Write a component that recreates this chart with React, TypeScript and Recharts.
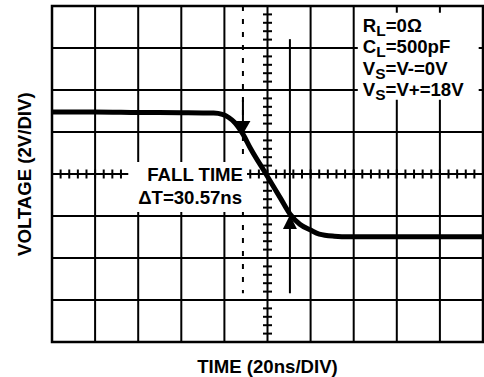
import {
  ComposedChart,
  Line,
  Scatter,
  XAxis,
  YAxis,
  CartesianGrid,
  ReferenceLine,
  ReferenceArea,
} from "recharts";

// ─── Data ─────────────────────────────────────────────────────────────────────

// output waveform, time in ns and output level in V
const timeNs = [0, 20, 40, 60, 75, 79, 82, 85, 88.6, 92, 99, 106, 110.4, 115, 120, 124, 131, 138, 160, 180, 200];
const voltage = [10.95, 10.95, 10.93, 10.92, 10.9, 10.84, 10.69, 10.43, 9.9, 9.24, 8.05, 6.85, 6.1, 5.61, 5.33, 5.14, 5.04, 5.01, 5.01, 5.01, 5.01];

// scope graticule: 10 x 8 divisions, 20ns/div and 2V/div
const timeTicks = [0, 20, 40, 60, 80, 100, 120, 140, 160, 180, 200];
const voltTicks = [0, 2, 4, 6, 8, 10, 12, 14, 16];
const centerTime = 100;
const centerVolt = 8;
const minorPerDiv = 5;

// measurement cursors (start / end of the fall)
const cursorTimes = [88.6, 110.4];
const cursorLevels = [9.9, 6.05];
const cursorTop = [16, 14.42];
const cursorBottom = 2.32;
const shaftTop = 11.53;

// white label backgrounds [t1, t2, v1, v2]
const fallBox = [35.4, 90.5, 6.19, 8.57];
const condBox = [141.9, 198, 11.53, 15.68];

const fallLines = ["FALL TIME", "ΔT=30.57ns"];
const legendLines = [
  ["R", "L", "=0Ω"],
  ["C", "L", "=500pF"],
  ["V", "S", "=V-=0V"],
  ["V", "S", "=V+=18V"],
];

const waveData = timeNs.map((t, i) => ({ t, v: voltage[i] }));

// minor ticks along the two centre lines, none under the fall-time label
const timeStep = (timeTicks[1] - timeTicks[0]) / minorPerDiv;
const voltStep = (voltTicks[1] - voltTicks[0]) / minorPerDiv;
const hMinor = Array.from({ length: (timeTicks.length - 1) * minorPerDiv + 1 }, (_, i) => ({
  t: i * timeStep,
  v: centerVolt,
})).filter((p) => p.t < fallBox[0] || p.t > fallBox[1]);
const vMinor = Array.from({ length: (voltTicks.length - 1) * minorPerDiv + 1 }, (_, i) => ({
  t: centerTime,
  v: i * voltStep,
}));

const FONT = '"Liberation Sans", Arial, Helvetica, sans-serif';
const FS = 18.6;
const W = 484;
const H = 377;

// ─── Shapes ───────────────────────────────────────────────────────────────────

// eslint-disable-next-line @typescript-eslint/no-explicit-any
function VTick(props: any) {
  const { cx, cy } = props;
  return <line x1={cx} x2={cx} y1={cy - 4.5} y2={cy + 4.5} stroke="#000" strokeWidth={2} />;
}

// eslint-disable-next-line @typescript-eslint/no-explicit-any
function HTick(props: any) {
  const { cx, cy } = props;
  return <line x1={cx - 4.5} x2={cx + 4.5} y1={cy} y2={cy} stroke="#000" strokeWidth={2} />;
}

// eslint-disable-next-line @typescript-eslint/no-explicit-any
function DownArrow(props: any) {
  const { cx, cy } = props;
  return <polygon points={`${cx - 7.5},${cy - 13} ${cx + 7.5},${cy - 13} ${cx},${cy}`} fill="#000" />;
}

// eslint-disable-next-line @typescript-eslint/no-explicit-any
function UpArrow(props: any) {
  const { cx, cy } = props;
  return <polygon points={`${cx - 7},${cy + 14} ${cx + 7},${cy + 14} ${cx},${cy}`} fill="#000" />;
}

// ─── Labels ───────────────────────────────────────────────────────────────────

// eslint-disable-next-line @typescript-eslint/no-explicit-any
function FallLabel(props: any) {
  const { x, y, width } = props.viewBox;
  return (
    <g>
      {fallLines.map((s, i) => (
        <text
          key={i}
          x={x + width - 4 - i}
          y={y + 18.5 + i * 23.5}
          textAnchor="end"
          fontFamily={FONT}
          fontWeight="bold"
          fontSize={FS}
          fill="#000"
        >
          {s}
        </text>
      ))}
    </g>
  );
}

// eslint-disable-next-line @typescript-eslint/no-explicit-any
function ConditionsLabel(props: any) {
  const { x, y } = props.viewBox;
  return (
    <g>
      {legendLines.map(([main, sub, rest], i) => (
        <text key={i} x={x + 5} y={y + 19 + i * 21.5} fontFamily={FONT} fontWeight="bold" fontSize={FS} fill="#000">
          {main}
          <tspan fontSize={15.5} dy={4}>
            {sub}
          </tspan>
          <tspan dy={-4}>{rest}</tspan>
        </text>
      ))}
    </g>
  );
}

// ─── Chart ────────────────────────────────────────────────────────────────────

export default function App() {
  return (
    <div style={{ position: "absolute", left: 0, top: 0, width: W, height: H, background: "#fff" }}>
      <ComposedChart width={W} height={H} margin={{ top: 6, right: 1, left: 52, bottom: 35 }}>
        <XAxis type="number" dataKey="t" domain={[0, 200]} ticks={timeTicks} hide />
        <YAxis type="number" dataKey="v" domain={[0, 16]} ticks={voltTicks} hide />
        <CartesianGrid stroke="#000" strokeWidth={2} />

        <Scatter data={hMinor} dataKey="v" shape={<VTick />} isAnimationActive={false} />
        <Scatter data={vMinor} dataKey="v" shape={<HTick />} isAnimationActive={false} />

        {/* start cursor: dashed, broken by the fall-time label */}
        <ReferenceLine
          segment={[
            { x: cursorTimes[0], y: cursorTop[0] },
            { x: cursorTimes[0], y: fallBox[3] },
          ]}
          stroke="#000"
          strokeWidth={2}
          strokeDasharray="5 8"
        />
        <ReferenceLine
          segment={[
            { x: cursorTimes[0], y: fallBox[2] },
            { x: cursorTimes[0], y: cursorBottom },
          ]}
          stroke="#000"
          strokeWidth={2}
          strokeDasharray="5 8"
        />
        <ReferenceLine
          segment={[
            { x: cursorTimes[0], y: shaftTop },
            { x: cursorTimes[0], y: cursorLevels[0] },
          ]}
          stroke="#000"
          strokeWidth={2}
        />
        {/* end cursor */}
        <ReferenceLine
          segment={[
            { x: cursorTimes[1], y: cursorTop[1] },
            { x: cursorTimes[1], y: cursorBottom },
          ]}
          stroke="#000"
          strokeWidth={2}
        />

        {/* label backgrounds with their text */}
        <ReferenceArea
          x1={fallBox[0]}
          x2={fallBox[1]}
          y1={fallBox[2]}
          y2={fallBox[3]}
          fill="#fff"
          fillOpacity={1}
          stroke="none"
          label={<FallLabel />}
        />
        <ReferenceArea
          x1={condBox[0]}
          x2={condBox[1]}
          y1={condBox[2]}
          y2={condBox[3]}
          fill="#fff"
          fillOpacity={1}
          stroke="none"
          label={<ConditionsLabel />}
        />

        {/* frame */}
        <ReferenceArea x1={0} x2={200} y1={0} y2={16} fill="none" stroke="#000" strokeWidth={2.5} />

        <Line
          data={waveData}
          dataKey="v"
          type="monotone"
          stroke="#000"
          strokeWidth={5}
          dot={false}
          activeDot={false}
          isAnimationActive={false}
        />

        <Scatter data={[{ t: cursorTimes[0], v: cursorLevels[0] }]} dataKey="v" shape={<DownArrow />} isAnimationActive={false} />
        <Scatter data={[{ t: cursorTimes[1], v: cursorLevels[1] }]} dataKey="v" shape={<UpArrow />} isAnimationActive={false} />

        {/* axis titles */}
        <text x={267.5} y={373} textAnchor="middle" fontFamily={FONT} fontWeight="bold" fontSize={FS} fill="#000">
          TIME (20ns/DIV)
        </text>
        <text
          x={31.5}
          y={174.2}
          transform="rotate(-90, 31.5, 174.2)"
          textAnchor="middle"
          fontFamily={FONT}
          fontWeight="bold"
          fontSize={FS}
          fill="#000"
        >
          VOLTAGE (2V/DIV)
        </text>
      </ComposedChart>
    </div>
  );
}
